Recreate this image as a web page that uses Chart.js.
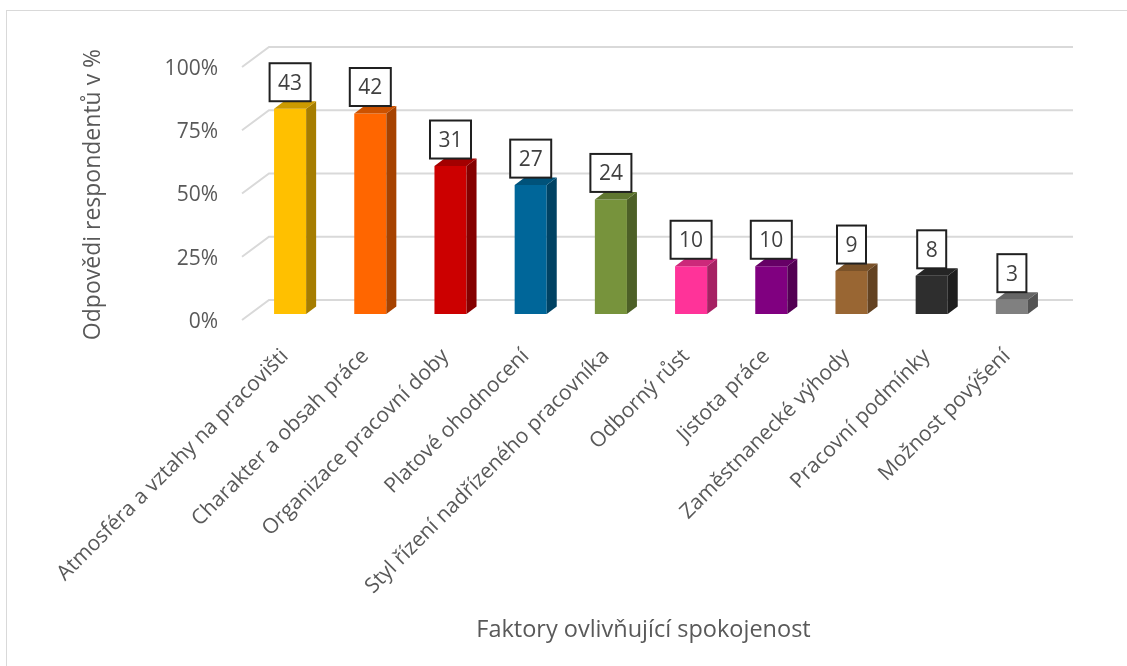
<!DOCTYPE html>
<html lang="cs">
<head>
<meta charset="utf-8">
<title>Faktory ovlivňující spokojenost</title>
<script src="https://cdn.jsdelivr.net/npm/chart.js@4.4.1/dist/chart.umd.min.js"></script>
<style>
  html, body { margin: 0; padding: 0; background: #ffffff; }
  #wrap { position: relative; width: 1127px; height: 666px; overflow: hidden; }
  #frame { position: absolute; left: 6px; top: 10px; width: 1300px; height: 900px;
           border: 1.5px solid #d9d9d9; box-sizing: border-box; }
  #c { position: absolute; left: 0; top: 0; }
</style>
</head>
<body>
<div id="wrap">
  <div id="frame"></div>
  <canvas id="c" width="1127" height="666"></canvas>
</div>
<script>
// Survey answers: number of respondents naming each factor
const categories = [
  'Atmosféra a vztahy na pracovišti',
  'Charakter a obsah práce',
  'Organizace pracovní doby',
  'Platové ohodnocení',
  'Styl řízení nadřízeného pracovníka',
  'Odborný růst',
  'Jistota práce',
  'Zaměstnanecké výhody',
  'Pracovní podmínky',
  'Možnost povýšení'
];
const respondentCounts = [43, 42, 31, 27, 24, 10, 10, 9, 8, 3];
const totalRespondents = 53;
const percentTicks = [0, 25, 50, 75, 100];
const xTitle = 'Faktory ovlivňující spokojenost';
const yTitle = 'Odpovědi respondentů v %';

// Palette (front faces); side and top faces are shaded from these
const barPalette = ['#FFC000', '#FF6600', '#CC0000', '#006699', '#77933C',
                    '#FF3399', '#800080', '#996633', '#2E2E2E', '#808080'];

const FONT = '"Open Sans", "DejaVu Sans", sans-serif';
const TEXT = '#595959';

function shade(hex, f) {
  const n = parseInt(hex.slice(1), 16);
  const r = Math.round(((n >> 16) & 255) * f);
  const g = Math.round(((n >> 8) & 255) * f);
  const b = Math.round((n & 255) * f);
  return `rgb(${r},${g},${b})`;
}

// Depth of the bars and of the back wall (pixels)
const BAR_DX = 10, BAR_DY = 7.5;
const WALL_DX = 19, WALL_DY = 14;
const FRONT_DX = 8, FRONT_DY = 6;

// Back wall gridlines with the slanted floor/side edges
const wallPlugin = {
  id: 'wall',
  beforeDatasetsDraw(chart) {
    const { ctx, chartArea: { left, right }, scales: { y } } = chart;
    ctx.save();
    ctx.strokeStyle = '#d9d9d9';
    ctx.lineWidth = 2;
    y.ticks.forEach(t => {
      const py = y.getPixelForValue(t.value);
      ctx.beginPath();
      ctx.moveTo(left - FRONT_DX, py + FRONT_DY);
      ctx.lineTo(left + WALL_DX, py - WALL_DY);
      ctx.lineTo(right + WALL_DX + 2, py - WALL_DY);
      ctx.stroke();
    });
    ctx.restore();
  }
};

// Side and top faces of each column
const columnPlugin = {
  id: 'column3d',
  afterDatasetsDraw(chart) {
    const { ctx } = chart;
    const meta = chart.getDatasetMeta(0);
    ctx.save();
    meta.data.forEach((bar, i) => {
      const { x, y, base, width } = bar.getProps(['x', 'y', 'base', 'width'], true);
      const l = x - width / 2, r = x + width / 2;
      const col = barPalette[i];
      // side
      ctx.fillStyle = shade(col, 0.65);
      ctx.beginPath();
      ctx.moveTo(r, y);
      ctx.lineTo(r + BAR_DX, y - BAR_DY);
      ctx.lineTo(r + BAR_DX, base - BAR_DY);
      ctx.lineTo(r, base);
      ctx.closePath();
      ctx.fill();
      // top
      ctx.fillStyle = shade(col, 0.8);
      ctx.beginPath();
      ctx.moveTo(l, y);
      ctx.lineTo(l + BAR_DX, y - BAR_DY);
      ctx.lineTo(r + BAR_DX, y - BAR_DY);
      ctx.lineTo(r, y);
      ctx.closePath();
      ctx.fill();
    });
    ctx.restore();
  }
};

// Boxed count labels above the columns
const valueBoxPlugin = {
  id: 'valueBoxes',
  afterDatasetsDraw(chart) {
    const { ctx } = chart;
    const meta = chart.getDatasetMeta(0);
    const values = chart.data.datasets[0].data;
    ctx.save();
    ctx.font = '21px ' + FONT;
    meta.data.forEach((bar, i) => {
      const { x, y } = bar.getProps(['x', 'y'], true);
      const txt = String(values[i]);
      const w = ctx.measureText(txt).width + 17;
      const h = 38;
      const bx = x - w / 2, by = y - BAR_DY - h;
      ctx.fillStyle = '#ffffff';
      ctx.fillRect(bx, by, w, h);
      ctx.strokeStyle = '#202020';
      ctx.lineWidth = 2;
      ctx.strokeRect(bx, by, w, h);
      ctx.fillStyle = '#404040';
      ctx.textAlign = 'center';
      ctx.textBaseline = 'middle';
      ctx.fillText(txt, x, by + h / 2 + 1.5);
    });
    ctx.restore();
  }
};

// Axis titles, centred on the front edge of the plot box
const axisTitlePlugin = {
  id: 'axisTitles',
  afterDraw(chart) {
    const { ctx, chartArea: { left, right }, scales: { y } } = chart;
    const frontTop = y.getPixelForValue(totalRespondents) + 8;
    const frontBottom = y.getPixelForValue(0) + 6;
    ctx.save();
    ctx.fillStyle = TEXT;
    ctx.textAlign = 'center';
    ctx.textBaseline = 'middle';
    ctx.font = '23.5px ' + FONT;
    ctx.fillText(xTitle, (left - FRONT_DX + right + WALL_DX) / 2 - 13, 630);
    ctx.font = '23px ' + FONT;
    ctx.translate(93, (frontTop + frontBottom) / 2);
    ctx.rotate(-Math.PI / 2);
    ctx.fillText(yTitle, 0, 0);
    ctx.restore();
  }
};

new Chart(document.getElementById('c'), {
  type: 'bar',
  data: {
    labels: categories,
    datasets: [{
      data: respondentCounts,
      backgroundColor: barPalette,
      borderWidth: 0,
      barPercentage: 0.4,
      categoryPercentage: 1
    }]
  },
  options: {
    responsive: false,
    animation: false,
    devicePixelRatio: 1,
    layout: { padding: { top: 61, right: 75, left: 0, bottom: 0 } },
    plugins: { legend: { display: false }, tooltip: { enabled: false } },
    scales: {
      x: {
        grid: { display: false, drawTicks: false },
        border: { display: false },
        ticks: {
          autoSkip: false, minRotation: 45, maxRotation: 45,
          padding: 30, labelOffset: -5,
          color: TEXT, font: { family: FONT, size: 21 }
        },
        title: { display: false, text: xTitle },
        afterFit(scale) { scale.height = 352; }
      },
      y: {
        min: 0, max: totalRespondents,
        grid: { display: false, drawTicks: false },
        border: { display: false },
        afterBuildTicks(scale) {
          scale.ticks = percentTicks.map(p => ({ value: p / 100 * totalRespondents }));
        },
        ticks: {
          padding: 32, labelOffset: 8,
          color: TEXT, font: { family: FONT, size: 21 },
          callback: v => Math.round(v / totalRespondents * 100) + '%'
        },
        title: { display: false, text: yTitle },
        afterFit(scale) { scale.width = 250; }
      }
    }
  },
  plugins: [wallPlugin, columnPlugin, valueBoxPlugin, axisTitlePlugin]
});
</script>
</body>
</html>
